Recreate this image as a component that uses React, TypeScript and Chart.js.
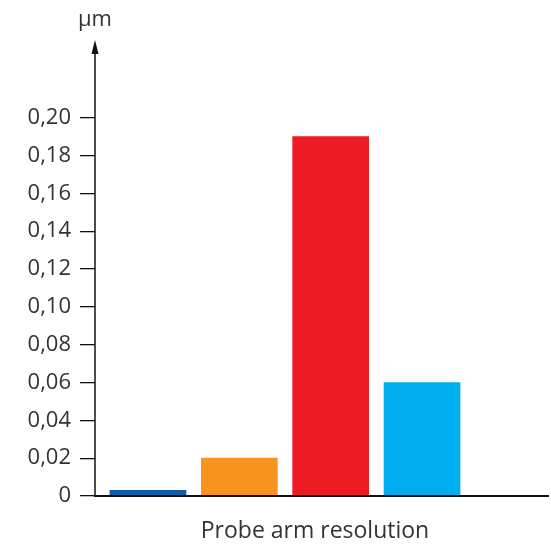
import React, { useEffect, useRef } from "react";
import { Chart, registerables } from "chart.js";

Chart.register(...registerables);

const positions = [1, 2, 3, 4];
const values = [0.003, 0.02, 0.19, 0.06];
const colors = ["#0a5ea8", "#f7941d", "#ed1c24", "#00aeef"];
const yTicks = [0, 0.02, 0.04, 0.06, 0.08, 0.1, 0.12, 0.14, 0.16, 0.18, 0.2];
const unitLabel = "µm";
const xTitle = "Probe arm resolution";

const FONT = "'Open Sans', sans-serif";

const axesPlugin = {
  id: "axesPlugin",
  afterDatasetsDraw(chart: any) {
    const { ctx, chartArea } = chart;
    const y0 = chart.scales.y.getPixelForValue(0);
    const x0 = chartArea.left;
    ctx.save();
    ctx.strokeStyle = "#111";
    ctx.fillStyle = "#111";
    // x axis
    ctx.lineWidth = 2;
    ctx.beginPath();
    ctx.moveTo(x0 - 1, y0);
    ctx.lineTo(chartArea.right, y0);
    ctx.stroke();
    // y axis
    ctx.lineWidth = 1.5;
    ctx.beginPath();
    ctx.moveTo(x0, y0);
    ctx.lineTo(x0, chartArea.top + 10);
    ctx.stroke();
    // arrow
    ctx.beginPath();
    ctx.moveTo(x0, chartArea.top - 2);
    ctx.lineTo(x0 - 3.5, chartArea.top + 12);
    ctx.lineTo(x0 + 3.5, chartArea.top + 12);
    ctx.closePath();
    ctx.fill();
    // unit label
    ctx.fillStyle = "#333";
    ctx.font = "22px " + FONT;
    ctx.textAlign = "center";
    ctx.textBaseline = "alphabetic";
    ctx.fillText(unitLabel, x0, chartArea.top - 16);
    // x title
    ctx.font = "23px " + FONT;
    ctx.fillText(xTitle, 315, 538);
    ctx.restore();
  },
};

export default function App() {
  const ref = useRef<HTMLCanvasElement>(null);
  useEffect(() => {
    document.body.style.margin = "0";
    const chart = new Chart(ref.current!, {
      type: "bar",
      data: {
        datasets: [
          {
            data: positions.map((p, i) => ({ x: p, y: values[i] })),
            backgroundColor: colors,
            barThickness: 76,
          },
        ],
      },
      options: {
        animation: false,
        responsive: false,
        maintainAspectRatio: false,
        layout: { padding: { top: 42, right: 2, bottom: 49, left: 0 } },
        plugins: { legend: { display: false }, tooltip: { enabled: false } },
        scales: {
          x: {
            type: "linear",
            min: 0.42,
            max: 5.39,
            display: false,
            offset: false,
          },
          y: {
            min: 0,
            max: 0.24,
            afterFit(scale: any) {
              scale.width = 95;
            },
            afterBuildTicks(scale: any) {
              scale.ticks = yTicks.map((v) => ({ value: v }));
            },
            ticks: {
              padding: 9,
              color: "#333",
              font: { family: FONT, size: 22 },
              callback: (v: any) =>
                Number(v) === 0 ? "0" : Number(v).toFixed(2).replace(".", ","),
            },
            grid: {
              drawOnChartArea: false,
              drawTicks: true,
              tickLength: 15,
              color: "#111",
              lineWidth: 1.3,
            },
            border: { display: false },
          },
        },
      },
      plugins: [axesPlugin],
    });
    return () => chart.destroy();
  }, []);
  return (
    <div style={{ position: "absolute", left: 0, top: 0, width: 551, height: 545 }}>
      <canvas ref={ref} width={551} height={545} style={{ display: "block" }} />
    </div>
  );
}
